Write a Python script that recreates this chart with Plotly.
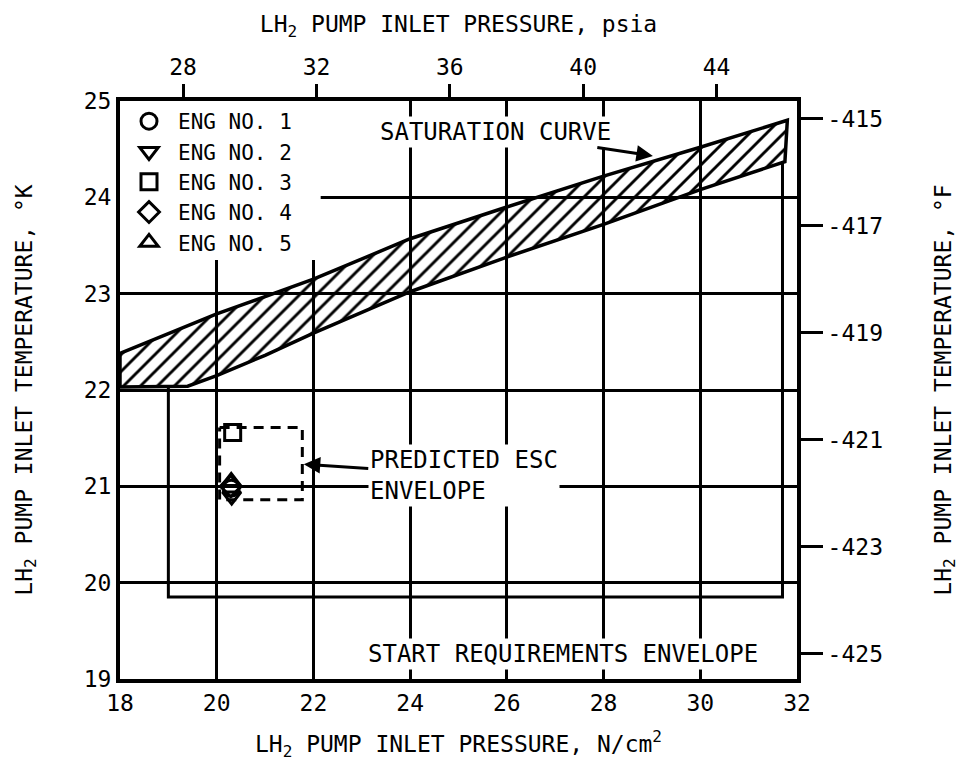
import plotly.graph_objects as go

# ---------------- data ----------------
x_range = [18, 32]            # N/cm^2
y_range = [19, 25]            # deg K
PSI_PER_NCM2 = 1.45038
def k_to_f(k):
    return k * 1.8 - 459.67

x_ticks = [18, 20, 22, 24, 26, 28, 30, 32]
y_ticks = [19, 20, 21, 22, 23, 24, 25]
psia_ticks = [28, 32, 36, 40, 44]
degf_ticks = [-415, -417, -419, -421, -423, -425]

sat_upper_x = [18, 20, 22, 24, 26, 28, 30, 31.8]
sat_upper_y = [22.38, 22.79, 23.15, 23.57, 23.90, 24.22, 24.52, 24.80]
sat_lower_x = [18, 19.4, 20, 21, 22, 24, 26, 28, 30, 31.75]
sat_lower_y = [22.03, 22.04, 22.15, 22.36, 22.59, 23.02, 23.38, 23.72, 24.08, 24.37]

start_env_x = [19, 19, 31.7, 31.7]
start_env_y = [22.03, 19.85, 19.85, 24.37]

esc_x = [20.06, 21.77, 21.77, 20.06, 20.06]
esc_y = [21.61, 21.61, 20.86, 20.86, 21.61]

engines = ["ENG NO. 1", "ENG NO. 2", "ENG NO. 3", "ENG NO. 4", "ENG NO. 5"]
eng_symbols = ["circle-open", "triangle-down-open", "square-open", "diamond-open", "triangle-up-open"]
eng_x = [20.30, 20.31, 20.33, 20.29, 20.30]
eng_y = [20.98, 20.90, 21.56, 21.00, 21.05]

FONT = "DejaVu Sans Mono"

fig = go.Figure()

# saturation band (hatched, transparent background so grid shows through)
band_x = sat_upper_x + sat_lower_x[::-1] + [sat_upper_x[0]]
band_y = sat_upper_y + sat_lower_y[::-1] + [sat_upper_y[0]]
fig.add_trace(go.Scatter(
    x=band_x, y=band_y, mode="lines", fill="toself",
    fillcolor="rgba(0,0,0,0)",
    fillpattern=dict(shape="/", size=12, solidity=0.24, fgcolor="black",
                     fgopacity=1, bgcolor="rgba(0,0,0,0)"),
    line=dict(color="black", width=3.5), showlegend=False, hoverinfo="skip"))

# start requirements envelope
fig.add_trace(go.Scatter(x=start_env_x, y=start_env_y, mode="lines",
                         line=dict(color="black", width=3), showlegend=False))

# predicted ESC envelope
fig.add_trace(go.Scatter(x=esc_x, y=esc_y, mode="lines",
                         line=dict(color="black", width=3, dash="10px,7px"), showlegend=False))

# engines
for name, sym, xx, yy in zip(engines, eng_symbols, eng_x, eng_y):
    fig.add_trace(go.Scatter(x=[xx], y=[yy], mode="markers", name=name,
                             marker=dict(symbol=sym, size=16, color="black",
                                         line=dict(width=3, color="black"))))

# secondary axes carrier
fig.add_trace(go.Scatter(x=[], y=[], xaxis="x2", yaxis="y2", showlegend=False))

axis_common = dict(showline=True, linecolor="black", linewidth=4, mirror=True,
                   gridcolor="black", gridwidth=3, zeroline=False,
                   tickfont=dict(family=FONT, size=23, color="black"))

fig.update_layout(
    width=962, height=769,
    margin=dict(l=120, r=165, t=101, b=90),
    paper_bgcolor="white", plot_bgcolor="white",
    font=dict(family=FONT, size=24, color="black"),
    xaxis=dict(range=x_range, tickvals=x_ticks, showgrid=True, ticks="",
               title=dict(text="LH<sub>2</sub> PUMP INLET PRESSURE, N/cm<sup>2</sup>",
                          font=dict(family=FONT, size=23), standoff=22),
               automargin=False, **axis_common),
    yaxis=dict(range=y_range, tickvals=y_ticks, showgrid=True, ticks="",
               title=dict(text="LH<sub>2</sub> PUMP INLET TEMPERATURE, °K",
                          font=dict(family=FONT, size=23), standoff=46),
               automargin=False, **axis_common),
    xaxis2=dict(overlaying="x", side="top", anchor="y",
                range=[x_range[0] * PSI_PER_NCM2, x_range[1] * PSI_PER_NCM2],
                tickvals=psia_ticks, ticks="outside", ticklen=16, tickwidth=3,
                tickcolor="black", showgrid=False, showline=False, zeroline=False,
                tickfont=dict(family=FONT, size=23, color="black"),
                title=dict(text="LH<sub>2</sub> PUMP INLET PRESSURE, psia",
                           font=dict(family=FONT, size=23), standoff=14),
                automargin=False),
    yaxis2=dict(overlaying="y", side="right", anchor="x",
                range=[k_to_f(y_range[0]), k_to_f(y_range[1])],
                tickvals=degf_ticks, ticktext=[str(v) for v in degf_ticks],
                ticks="outside", ticklen=25, tickwidth=3, tickcolor="black",
                showgrid=False, showline=False, zeroline=False,
                tickfont=dict(family=FONT, size=23, color="black"),
                title=dict(text="LH<sub>2</sub> PUMP INLET TEMPERATURE, °F",
                           font=dict(family=FONT, size=23), standoff=52),
                automargin=False),
    legend=dict(x=0.0, y=1.0, xanchor="left", yanchor="top",
                bgcolor="rgba(0,0,0,0)", font=dict(family=FONT, size=21),
                itemsizing="trace", itemwidth=48, tracegroupgap=0),
    showlegend=True,
    shapes=[dict(type="rect", xref="x", yref="y", x0=18, x1=22.15, y0=23.35, y1=25,
                 fillcolor="white", line=dict(width=0), layer="between")],
    annotations=[
        dict(x=29.02, y=24.43, xref="x", yref="y", text="SATURATION CURVE",
             showarrow=True, ax=-157, ay=-24, arrowhead=2, arrowsize=1.1,
             arrowwidth=3, arrowcolor="black", bgcolor="white",
             font=dict(family=FONT, size=24, color="black")),
        dict(x=21.8, y=21.23, xref="x", yref="y", text="PREDICTED ESC<br>ENVELOPE",
             showarrow=True, ax=160, ay=11, arrowhead=2, arrowsize=1.1,
             arrowwidth=3, arrowcolor="black", bgcolor="white", align="left",
             font=dict(family=FONT, size=24, color="black")),
        dict(x=27.17, y=19.26, xref="x", yref="y", text="START REQUIREMENTS ENVELOPE",
             showarrow=False, bgcolor="white",
             font=dict(family=FONT, size=24, color="black")),
    ],
)

fig.write_html("out.html")
